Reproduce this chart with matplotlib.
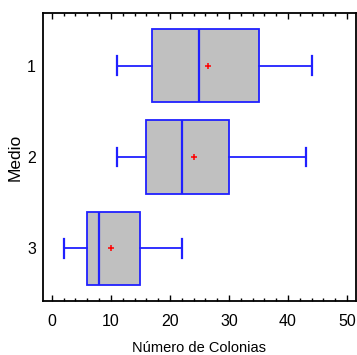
import matplotlib
matplotlib.use('Agg')
import matplotlib.pyplot as plt
from matplotlib.ticker import MultipleLocator

plt.rcParams['font.family'] = ['Liberation Sans', 'DejaVu Sans']

groups = ['1', '2', '3']
whislo = [11, 11, 2]
q1 = [17, 16, 6]
med = [25, 22, 8]
q3 = [35, 30, 15]
whishi = [44, 43, 22]
means = [26.5, 24, 10]

stats = []
for g, lo, a, m, b, hi, mu in zip(groups, whislo, q1, med, q3, whishi, means):
    stats.append({'label': g, 'whislo': lo, 'q1': a, 'med': m, 'q3': b,
                  'whishi': hi, 'mean': mu, 'fliers': []})

fig = plt.figure(figsize=(3.57, 3.55), dpi=100)
ax = fig.add_axes([0.1204, 0.1521, 0.8766, 0.8113])

blue = '#2020ff'
ax.bxp(stats, positions=[1, 2, 3], orientation='horizontal', widths=0.8,
       capwidths=0.2, patch_artist=True, showmeans=True,
       boxprops=dict(facecolor='#c0c0c0', edgecolor=blue, linewidth=1.3),
       medianprops=dict(color=blue, linewidth=1.6),
       whiskerprops=dict(color=blue, linewidth=1.3),
       capprops=dict(color=blue, linewidth=1.6),
       meanprops=dict(marker='+', markeredgecolor='red', markersize=5, markeredgewidth=1.1))

ax.set_xlim(-1.5, 51.5)
ax.set_ylim(3.574, 0.426)
ax.xaxis.set_major_locator(MultipleLocator(10))
ax.xaxis.set_minor_locator(MultipleLocator(2))
ax.tick_params(axis='x', which='both', direction='in', top=True, labelsize=11.5, pad=9)
ax.tick_params(axis='x', which='major', length=4.5, width=1)
ax.tick_params(axis='x', which='minor', length=2.5, width=1)
ax.tick_params(axis='y', length=0, labelsize=11.5, pad=5)
for s in ax.spines.values():
    s.set_linewidth(1.3)

ax.set_xlabel('Número de Colonias', fontsize=10.5, labelpad=9)
ax.set_ylabel('Medio', fontsize=12.5, labelpad=3)

fig.savefig('out.png', dpi=100)
